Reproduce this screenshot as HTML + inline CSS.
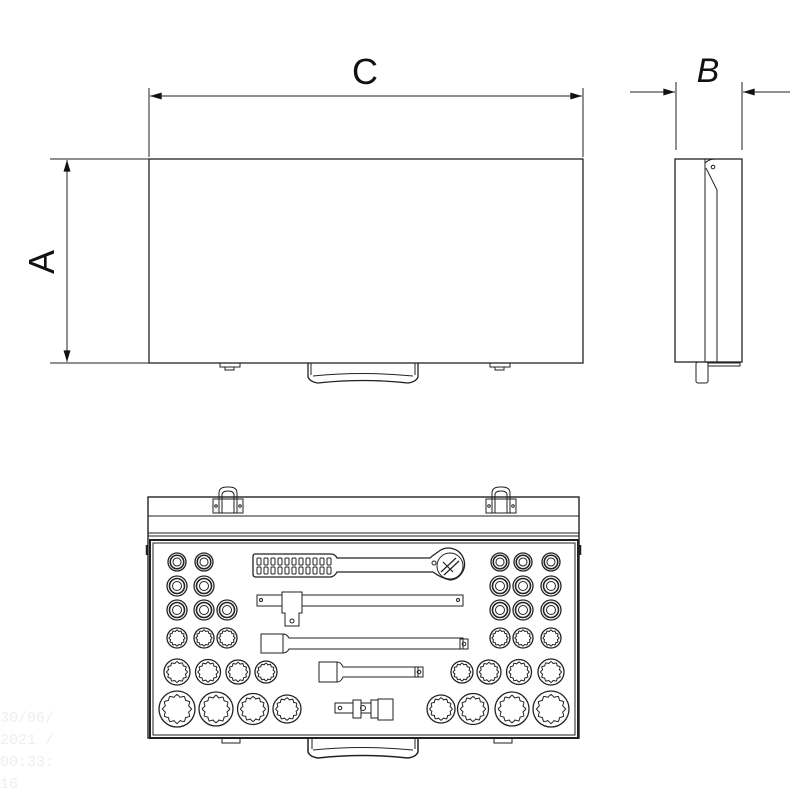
<!DOCTYPE html>
<html><head><meta charset="utf-8"><style>
html,body{margin:0;padding:0;background:#fff;width:800px;height:800px;overflow:hidden}
svg{display:block}
text{font-family:"Liberation Sans",sans-serif}
text.wm{font-family:"Liberation Mono",monospace}
</style></head><body>
<svg id="s" width="800" height="800" viewBox="0 0 800 800" xmlns="http://www.w3.org/2000/svg" fill="none" stroke="#222" stroke-width="1">
<defs>
<marker id="ar" viewBox="0 0 10 6" refX="10" refY="3" markerWidth="14" markerHeight="7" orient="auto" markerUnits="userSpaceOnUse"><path d="M0,0 L10,3 L0,6z" fill="#111" stroke="none"/></marker>
</defs>
<!-- C dimension -->
<line x1="149" y1="88" x2="149" y2="157"/>
<line x1="583" y1="88" x2="583" y2="157"/>
<line x1="165" y1="96" x2="150" y2="96" marker-end="url(#ar)"/>
<line x1="160" y1="96" x2="582" y2="96" marker-end="url(#ar)"/>
<text x="365" y="84" font-size="36" fill="#111" stroke="none" text-anchor="middle">C</text>
<!-- A dimension -->
<line x1="50" y1="159" x2="149" y2="159"/>
<line x1="50" y1="363" x2="149" y2="363"/>
<line x1="67" y1="200" x2="67" y2="160" marker-end="url(#ar)"/>
<line x1="67" y1="180" x2="67" y2="362" marker-end="url(#ar)"/>
<text x="0" y="0" font-size="36" fill="#111" stroke="none" text-anchor="middle" transform="translate(54,262) rotate(-90)">A</text>
<!-- front box -->
<rect x="149" y="159" width="434" height="204" stroke-width="1.3"/>
<rect x="220" y="363" width="20" height="4"/><rect x="225" y="367" width="9" height="3"/>
<rect x="490" y="363" width="20" height="4"/><rect x="495" y="367" width="9" height="3"/>
<path d="M308,363 v14 q2,5 10,6 q45,-5 90,0 q8,-1 10,-6 v-14" stroke-width="1.3"/>
<path d="M311,363 v12 M415,363 v12 M313,376 q50,-5 100,0"/>
<!-- B dimension -->
<line x1="676" y1="82" x2="676" y2="150"/>
<line x1="742" y1="82" x2="742" y2="150"/>
<line x1="630" y1="92" x2="675" y2="92" marker-end="url(#ar)"/>
<line x1="790" y1="92" x2="743" y2="92" marker-end="url(#ar)"/>
<text x="708" y="82" font-size="34" fill="#111" stroke="none" text-anchor="middle" font-style="italic">B</text>
<!-- side view -->
<rect x="675" y="159" width="67" height="203" stroke-width="1.3"/>
<path d="M705,159 V362 M717,190 V362"/>
<path d="M705,163 q4,-4 10,-4 M706,168 L717,190" />
<circle cx="713" cy="167" r="1.8"/>
<path d="M708,363 h32 v3 h-32z"/>
<rect x="696" y="362" width="12" height="21" rx="2"/>
<!-- bottom view lid -->
<rect x="148" y="497" width="431" height="241" stroke-width="1.4"/>
<line x1="148" y1="516" x2="579" y2="516"/>
<line x1="148" y1="533" x2="579" y2="533"/>
<line x1="148" y1="536" x2="579" y2="536"/>
<rect x="150" y="540" width="428" height="198" stroke-width="2"/>
<rect x="153" y="543" width="422" height="192"/>
<path d="M147,545 v10 M580,545 v10" stroke-width="2.5"/>
<g id="latch">
<rect x="213" y="499" width="30" height="14"/>
<path d="M219,513 V493 q0,-6 8,-6 h2 q8,0 8,6 V513"/>
<path d="M222,513 V495 q0,-4 6,-4 q6,0 6,4 V513"/>
<circle cx="216" cy="506" r="1.3"/><circle cx="240" cy="506" r="1.3"/>
</g>
<use href="#latch" x="273"/>
<rect x="222" y="738" width="18" height="5"/><rect x="494" y="738" width="18" height="5"/>
<path d="M308,738 v14 q2,5 10,6 q45,-5 90,0 q8,-1 10,-6 v-14" stroke-width="1.5"/>
<path d="M312,738 v11 M415,738 v11 M313,750 q50,-5 100,0"/>
<!-- ratchet -->
<path d="M255,554 q-2,0 -2,3 v17 q0,3 3,3 h75 q4,-1 6,-5 L433,572 q8,6 17,8 a16,16 0 1,0 -12,-28 q-6,4 -8,6 L337,558 q-2,-4 -6,-4z" stroke-width="1.3"/>
<circle cx="450" cy="566" r="13"/>
<path d="M441,572 l15,-14 M444,575 l15,-14 M443,562 l10,10" stroke-width="1.2"/>
<circle cx="434" cy="563" r="2"/>
<g id="grip">
<rect x="257" y="558" width="4" height="7" rx="1"/><rect x="257" y="567" width="4" height="7" rx="1"/>
</g>
<!-- T-bar -->
<rect x="257" y="595" width="206" height="11"/>
<circle cx="261" cy="600" r="1.5"/><circle cx="458" cy="600" r="1.5"/>
<path d="M282,592 h20 v21 h-3 v13 h-14 v-13 h-3z" fill="#fff"/>
<circle cx="292" cy="621" r="2"/>
<!-- long extension -->
<rect x="261" y="634" width="22" height="19"/>
<path d="M283,634 q4,0 6,4 h174 v11 h-174 q-2,4 -6,4"/>
<rect x="460" y="639" width="8" height="10"/><circle cx="464" cy="644" r="1.8"/>
<!-- short extension -->
<rect x="319" y="662" width="18" height="20"/>
<path d="M337,662 q4,0 6,5 h75 v10 h-75 q-2,5 -6,5"/>
<rect x="415" y="667" width="8" height="10"/><circle cx="419" cy="672" r="1.8"/>
<!-- u-joint -->
<rect x="335" y="703" width="18" height="10"/><circle cx="340" cy="708" r="1.8"/>
<path d="M353,700 h8 v18 h-8z M361,703 h10 v10 h-10z"/>
<circle cx="363" cy="708" r="2.5"/>
<rect x="371" y="700" width="7" height="18"/>
<rect x="378" y="699" width="15" height="21"/>
<g id="sk"></g>
<text class="wm" x="0" y="722" font-size="15" fill="#eee" stroke="none">30/06/</text>
<text class="wm" x="0" y="744" font-size="15" fill="#eee" stroke="none">2021 /</text>
<text class="wm" x="0" y="766" font-size="15" fill="#eee" stroke="none">00:33:</text>
<text class="wm" x="0" y="788" font-size="15" fill="#eee" stroke="none">16</text>
</svg>
<script>
var NS="http://www.w3.org/2000/svg",g=document.getElementById('sk');
function el(n,a){var e=document.createElementNS(NS,n);for(var k in a)e.setAttribute(k,a[k]);g.appendChild(e);}
var svg=document.getElementById('s');
for(var i=1;i<11;i++){var u=document.createElementNS(NS,'use');u.setAttribute('href','#grip');u.setAttribute('x',i*7);svg.appendChild(u);}
function sock(x,y,r,w){
 el('circle',{cx:x,cy:y,r:r,'stroke-width':1.3});
 if(w){var d='';for(var i=0;i<=48;i++){var a=i/48*2*Math.PI;var rr2=r*(0.74+0.07*Math.cos(a*12));d+=(i?'L':'M')+(x+rr2*Math.cos(a)).toFixed(1)+','+(y+rr2*Math.sin(a)).toFixed(1);}el('path',{d:d+'Z'});}
 else{el('circle',{cx:x,cy:y,r:r*0.75,'stroke-width':1.6});el('circle',{cx:x,cy:y,r:r*0.45});}
}
var L=[177,204,227],R=[500,523,551];
[[562,2,9],[586,2,10],[610,3,10],[638,3,10]].forEach(function(rw){
 for(var i=0;i<rw[1];i++)sock(L[i],rw[0],rw[2],rw[0]==638);
 R.forEach(function(x){sock(x,rw[0],rw[2],rw[0]==638);});
});
[[177,13],[208,12.5],[238,12],[266,11]].forEach(function(p){sock(p[0],672,p[1],1);});
[[462,11],[489,12],[519,12.5],[551,13]].forEach(function(p){sock(p[0],672,p[1],1);});
[[177,18],[216,17],[253,15.5],[287,14]].forEach(function(p){sock(p[0],709,p[1],1);});
[[441,14],[473,15.5],[512,17],[551,18]].forEach(function(p){sock(p[0],709,p[1],1);});
</script>
</body></html>
